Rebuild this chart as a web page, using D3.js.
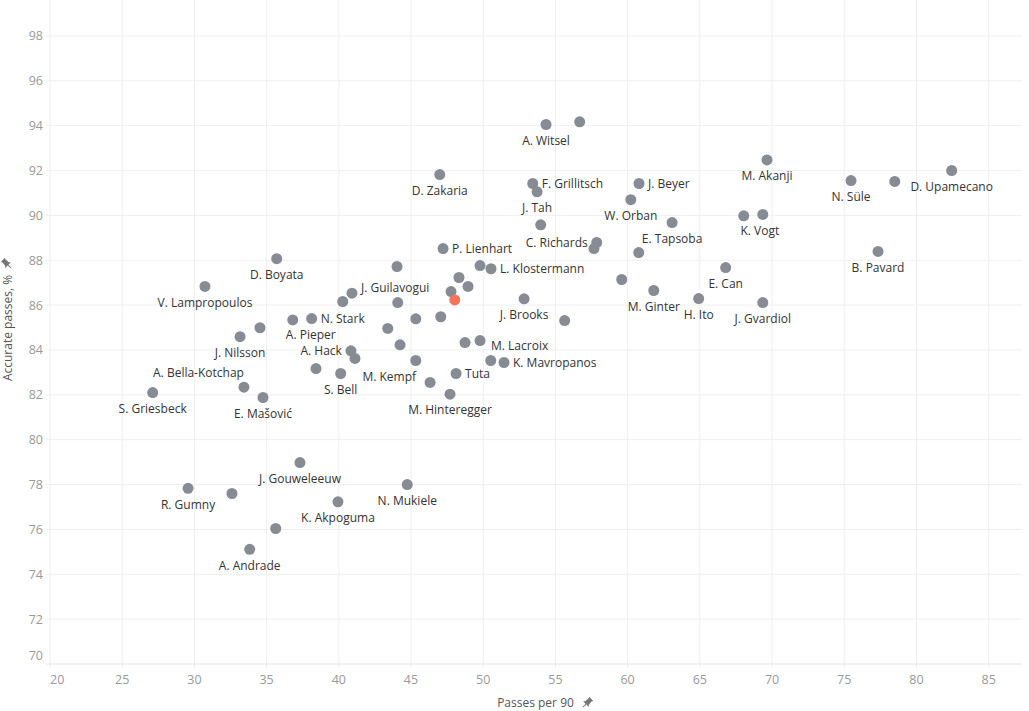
<!DOCTYPE html>
<html>
<head>
<meta charset="utf-8">
<script src="https://cdn.jsdelivr.net/npm/d3@7"></script>
<style>
  body { margin: 0; background: #fff; }
  svg { display: block; font-family: "Open Sans", sans-serif; }
</style>
</head>
<body>
<svg id="chart" width="1029" height="711"></svg>
<script>
// players, "" = no label shown
const players = [
  "A. Witsel", "", "D. Zakaria", "F. Grillitsch", "J. Tah", "J. Beyer", "W. Orban", "E. Tapsoba",
  "", "C. Richards", "", "", "P. Lienhart", "D. Boyata", "M. Akanji", "", "K. Vogt",
  "N. Süle", "", "D. Upamecano", "B. Pavard", "E. Can", "", "M. Ginter", "H. Ito", "J. Gvardiol",
  "J. Brooks", "", "", "L. Klostermann", "", "", "", "", "J. Guilavogui", "", "",
  "V. Lampropoulos", "A. Pieper", "N. Stark", "", "", "J. Nilsson", "", "", "", "",
  "M. Lacroix", "A. Hack", "", "", "S. Bell", "", "M. Kempf", "Tuta", "M. Hinteregger", "",
  "K. Mavropanos", "S. Griesbeck", "A. Bella-Kotchap", "E. Mašović", "J. Gouweleeuw", "R. Gumny", "",
  "K. Akpoguma", "N. Mukiele", "", "A. Andrade"
];

const passesPer90 = [
  54.35, 56.68, 46.99, 53.43, 53.73, 60.79, 60.22, 63.08,
  53.98, 57.86, 57.67, 60.77, 47.22, 35.70, 69.65, 68.04, 69.36,
  75.47, 78.50, 82.44, 77.34, 66.79, 59.59, 61.81, 64.92, 69.36,
  52.83, 55.64, 44.03, 50.54, 49.78, 48.32, 48.95, 47.77, 40.91, 40.27, 44.08,
  30.73, 36.81, 38.12, 45.33, 47.06, 33.16, 34.54, 43.39, 44.24, 48.74,
  49.78, 40.84, 41.12, 38.42, 40.13, 45.33, 46.32, 48.12, 47.70, 50.52,
  51.44, 27.11, 33.43, 34.75, 37.31, 29.56, 32.60,
  39.94, 44.74, 35.63, 33.83
];

const accuratePasses = [
  94.05, 94.17, 91.82, 91.42, 91.05, 91.42, 90.70, 89.68,
  89.58, 88.79, 88.52, 88.34, 88.52, 88.07, 92.47, 89.98, 90.04,
  91.55, 91.51, 92.00, 88.39, 87.67, 87.14, 86.65, 86.29, 86.11,
  86.28, 85.31, 87.72, 87.62, 87.76, 87.23, 86.83, 86.60, 86.53, 86.16, 86.11,
  86.83, 85.34, 85.40, 85.39, 85.48, 84.59, 84.99, 84.96, 84.23, 84.33,
  84.42, 83.96, 83.62, 83.17, 82.95, 83.53, 82.55, 82.95, 82.03, 83.53,
  83.44, 82.10, 82.34, 81.88, 78.98, 77.83, 77.60,
  77.23, 78.00, 76.04, 75.11
];

// the highlighted (orange) player
const highlighted = [48.03, 86.23];

const xTicks = [20, 25, 30, 35, 40, 45, 50, 55, 60, 65, 70, 75, 80, 85];
const yTicks = [70, 72, 74, 76, 78, 80, 82, 84, 86, 88, 90, 92, 94, 96, 98];

// label placement: [anchor, dx, dy(middle of text)]
const below = ["middle", 0, 16];
const right = ["start", 9, 0];
const left = ["end", -9, 0];
const labelPos = {
  "F. Grillitsch": right, "J. Beyer": right, "P. Lienhart": right, "L. Klostermann": right,
  "N. Stark": right, "Tuta": right, "K. Mavropanos": right,
  "J. Guilavogui": ["start", 9, -5],
  "M. Lacroix": ["start", 11, 5],
  "C. Richards": left, "A. Hack": left,
  "M. Kempf": ["end", -14, -6],
  "A. Bella-Kotchap": ["end", 0, -14],
  "A. Pieper": ["middle", 18, 15],
  "K. Vogt": ["middle", -3, 16]
};

const svg = d3.select("#chart");
const margin = { top: 0, left: 50, right: 7, bottom: 47 };
const width = +svg.attr("width");
const height = +svg.attr("height");

const x = d3.scaleLinear().domain([20, 87.31]).range([margin.left, width - margin.right]);
const y = d3.scaleLinear().domain([70, 99.6]).range([height - margin.bottom, margin.top]);

const grid = svg.append("g");
grid.selectAll(".vx").data(xTicks).enter().append("line")
  .attr("x1", d => x(d)).attr("x2", d => x(d))
  .attr("y1", margin.top).attr("y2", y(70) + 4)
  .attr("stroke", "#efefef");
grid.selectAll(".hy").data(yTicks).enter().append("line")
  .attr("x1", margin.left - 4).attr("x2", width - margin.right)
  .attr("y1", d => y(d)).attr("y2", d => y(d))
  .attr("stroke", d => d === 70 ? "#e4e4e4" : "#efefef");

// tick labels
svg.append("g").selectAll("text").data(xTicks).enter().append("text")
  .attr("x", d => x(d))
  .attr("y", y(70) + 20)
  .attr("text-anchor", (d, i) => i === 0 ? "start" : "middle")
  .attr("fill", "#999")
  .style("font-size", "12.5px")
  .text(d => d);

svg.append("g").selectAll("text").data(yTicks).enter().append("text")
  .attr("x", margin.left - 7)
  .attr("y", d => d === 70 ? y(d) - 4 : y(d) + 4.5)
  .attr("text-anchor", "end")
  .attr("fill", "#999")
  .style("font-size", "12.5px")
  .text(d => d);

// pin glyph
function pin(g, cx, cy, rot) {
  const p = g.append("g").attr("transform", `translate(${cx},${cy}) rotate(${rot})`);
  p.append("path").attr("d", "M-3,-6 L3,-6 L2.2,-4.5 L2.6,0 L4,1.5 L-4,1.5 L-2.6,0 L-2.2,-4.5 Z").attr("fill", "#777");
  p.append("line").attr("x1", 0).attr("x2", 0).attr("y1", 1.5).attr("y2", 6).attr("stroke", "#777").attr("stroke-width", 1);
}

// axis titles
svg.append("text")
  .attr("x", 535.5).attr("y", 707)
  .attr("text-anchor", "middle")
  .attr("fill", "#555")
  .style("font-size", "12px")
  .text("Passes per 90");
pin(svg, 587, 703, 45);

svg.append("text")
  .attr("transform", `translate(12, 328) rotate(-90)`)
  .attr("text-anchor", "middle")
  .attr("fill", "#555")
  .style("font-size", "12px")
  .text("Accurate passes, %");
pin(svg, 7, 264, -45);

// points
const pts = players.map((n, i) => ({ name: n, px: passesPer90[i], acc: accuratePasses[i] }));

svg.append("g").selectAll("circle").data(pts).enter().append("circle")
  .attr("cx", d => x(d.px))
  .attr("cy", d => y(d.acc))
  .attr("r", 5.5)
  .attr("fill", "#878b93");

svg.append("circle")
  .attr("cx", x(highlighted[0]))
  .attr("cy", y(highlighted[1]))
  .attr("r", 5.5)
  .attr("fill", "#f7735b");

svg.append("g").selectAll("text").data(pts.filter(d => d.name)).enter().append("text")
  .attr("x", d => x(d.px) + (labelPos[d.name] || below)[1])
  .attr("y", d => y(d.acc) + (labelPos[d.name] || below)[2] + 4.3)
  .attr("text-anchor", d => (labelPos[d.name] || below)[0])
  .attr("fill", "#333")
  .style("font-size", "12px")
  .text(d => d.name);
</script>
</body>
</html>
